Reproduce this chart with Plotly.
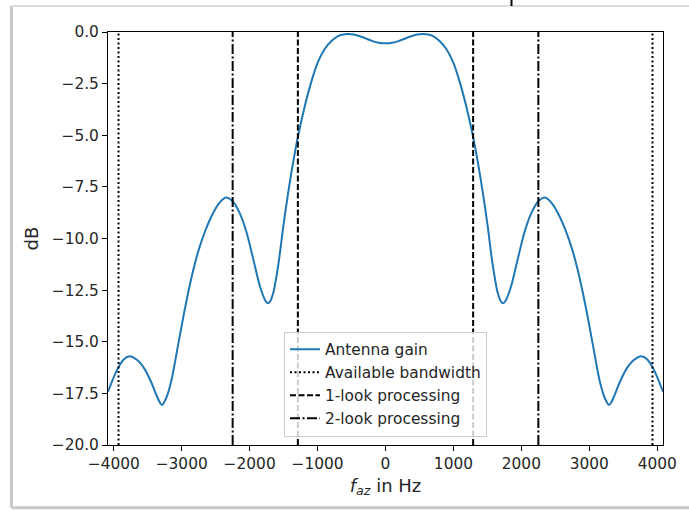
import plotly.graph_objects as go

# Antenna gain curve
freq_hz = [-4085, -3950, -3850, -3767, -3650, -3550, -3450, -3370, -3320, -3290, -3225, -3150,
           -3050, -2950, -2850, -2750, -2650, -2550, -2450, -2350, -2250, -2150, -2050, -1950,
           -1850, -1770, -1735, -1700, -1650, -1575, -1500, -1400, -1300, -1200, -1100, -1000,
           -900, -800, -700, -600, -550, -500, -400, -300, -200, -100, 0,
           100, 200, 300, 400, 500, 550, 600, 700, 800, 900, 1000, 1100, 1200, 1300, 1400,
           1500, 1575, 1650, 1700, 1735, 1770, 1850, 1950, 2050, 2150, 2250, 2350, 2450,
           2550, 2650, 2750, 2850, 2950, 3050, 3150, 3225, 3290, 3320, 3370, 3450, 3550,
           3650, 3767, 3850, 3950, 4085]
gain_db = [-17.42, -16.35, -15.85, -15.70, -15.90, -16.30, -16.95, -17.60, -17.95, -18.06, -17.70, -16.85,
           -15.1, -13.35, -11.8, -10.55, -9.6, -8.85, -8.30, -8.02, -8.20, -8.75, -9.65, -10.95,
           -12.3, -13.0, -13.14, -13.05, -12.6, -11.2, -9.3, -7.10, -5.25, -3.75, -2.50, -1.50,
           -0.85, -0.45, -0.20, -0.11, -0.10, -0.11, -0.18, -0.30, -0.43, -0.52, -0.55,
           -0.52, -0.43, -0.30, -0.18, -0.11, -0.10, -0.11, -0.20, -0.45, -0.85, -1.50, -2.50, -3.75, -5.25, -7.10,
           -9.3, -11.2, -12.6, -13.05, -13.14, -13.0, -12.3, -10.95, -9.65, -8.75, -8.20, -8.02, -8.30,
           -8.85, -9.6, -10.55, -11.8, -13.35, -15.1, -16.85, -17.70, -18.06, -17.95, -17.60, -16.95, -16.30,
           -15.90, -15.70, -15.85, -16.35, -17.42]

available_bw = [-3930, 3930]
one_look = [-1290, 1290]
two_look = [-2250, 2250]

x_range = [-4085, 4085]
y_range = [-20, 0]
x_ticks = [-4000, -3000, -2000, -1000, 0, 1000, 2000, 3000, 4000]
y_ticks = [0, -2.5, -5, -7.5, -10, -12.5, -15, -17.5, -20]
y_tick_text = ["0.0", "\u22122.5", "\u22125.0", "\u22127.5", "\u221210.0", "\u221212.5", "\u221215.0", "\u221217.5", "\u221220.0"]
x_tick_text = ["\u22124000", "\u22123000", "\u22122000", "\u22121000", "0", "1000", "2000", "3000", "4000"]

fig = go.Figure()
fig.add_trace(go.Scatter(x=freq_hz, y=gain_db, mode="lines", name="Antenna gain",
                         line=dict(color="#1f77b4", width=2, shape="spline", smoothing=0.8)))

def vlines(xs, name, dash):
    xx, yy = [], []
    for v in xs:
        xx += [v, v, None]
        yy += [y_range[0], y_range[1], None]
    fig.add_trace(go.Scatter(x=xx, y=yy, mode="lines", name=name,
                             line=dict(color="black", width=2, dash=dash)))

vlines(available_bw, "Available bandwidth", "2px,2.5px")
vlines(one_look, "1-look processing", "6px,2.5px")
vlines(two_look, "2-look processing", "10px,2.5px,2px,2.5px")

font = "DejaVu Sans, Liberation Sans, sans-serif"
fs = 15.4
fig.update_layout(
    width=689, height=511,
    margin=dict(l=108, r=24, t=32, b=66),
    paper_bgcolor="white", plot_bgcolor="white",
    font=dict(family=font, size=fs, color="#262626"),
    showlegend=True,
    legend=dict(x=0.5, y=0.02, xanchor="center", yanchor="bottom",
                bgcolor="rgba(255,255,255,0.8)", bordercolor="#cccccc", borderwidth=1,
                font=dict(size=fs, color="#262626"), tracegroupgap=0, itemwidth=30),
    xaxis=dict(range=x_range, tickvals=x_ticks, ticktext=x_tick_text, ticks="outside",
               ticklen=5, tickcolor="black", showline=True, linecolor="black", linewidth=1,
               mirror=True, showgrid=False, zeroline=False,
               title=dict(text="<i>f</i><sub><i>az</i></sub> in Hz", standoff=6)),
    yaxis=dict(range=y_range, tickvals=y_ticks, ticktext=y_tick_text, ticks="outside",
               ticklen=5, tickcolor="black", showline=True, linecolor="black", linewidth=1,
               mirror=True, showgrid=False, zeroline=False,
               title=dict(text="dB", standoff=8)),
)

# screenshot frame artifacts
fig.add_shape(type="line", xref="paper", yref="paper", x0=-0.174, x1=-0.174, y0=-0.152, y1=1.063,
              line=dict(color="#c8c8c8", width=3))
fig.add_shape(type="line", xref="paper", yref="paper", x0=-0.174, x1=1.1, y0=1.063, y1=1.063,
              line=dict(color="#dcdcdc", width=2))
fig.add_shape(type="line", xref="paper", yref="paper", x0=-0.174, x1=1.1, y0=-0.152, y1=-0.152,
              line=dict(color="#c8c8c8", width=3))
fig.add_shape(type="line", xref="paper", yref="paper", x0=0.727, x1=0.727, y0=1.063, y1=1.08,
              line=dict(color="black", width=2))

fig.write_html("out.html")
